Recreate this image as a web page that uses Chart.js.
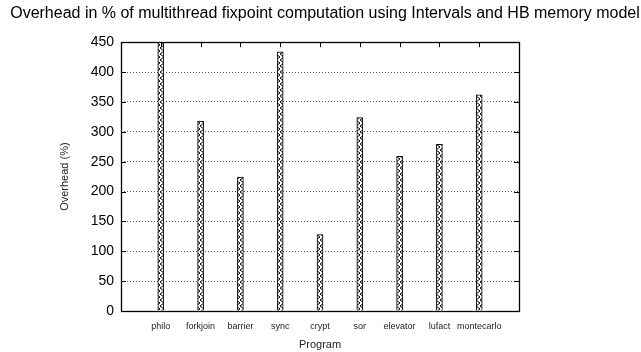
<!DOCTYPE html>
<html>
<head>
<meta charset="utf-8">
<script src="https://cdn.jsdelivr.net/npm/chart.js@4"></script>
<style>
  html,body{margin:0;padding:0;background:#fff;}
  #wrap{width:641px;height:352px;position:relative;}
</style>
</head>
<body>
<div id="wrap"><canvas id="chart" width="641" height="352"></canvas></div>
<script>
/* ---------- DATA ---------- */
const programs = ["philo","forkjoin","barrier","sync","crypt","sor","elevator","lufact","montecarlo"];
const overhead = [450, 318, 224, 434, 128, 324, 259, 279, 362];
const yTicks = [0, 50, 100, 150, 200, 250, 300, 350, 400, 450];

// pad the category axis so bars sit at 1..9 on a 0..10 range
const labels = ["", ...programs, ""];
const values = [null, ...overhead, null];

/* ---------- PATTERN ---------- */
function zigzag(){
  const c = document.createElement("canvas");
  c.width = 4; c.height = 6;
  const x = c.getContext("2d");
  x.fillStyle = "#fff";
  x.fillRect(0,0,4,6);
  x.strokeStyle = "#000";
  x.lineWidth = 1;
  x.beginPath();
  x.moveTo(0,0); x.lineTo(4,3); x.lineTo(0,6);
  x.stroke();
  return x.createPattern(c, "repeat");
}

/* ---------- FRAME (gnuplot style border + mirrored tics) ---------- */
const frame = {
  id:"frame",
  afterDraw(chart){
    const {ctx, chartArea:a, scales:{x, y}} = chart;
    ctx.save();
    ctx.strokeStyle = "#000";
    ctx.lineWidth = 1;
    ctx.beginPath();
    yTicks.forEach(v=>{
      const py = Math.round(y.getPixelForValue(v)) + .5;
      ctx.moveTo(a.left, py); ctx.lineTo(a.left+5, py);
      ctx.moveTo(a.right, py); ctx.lineTo(a.right-5, py);
    });
    programs.forEach((p,i)=>{
      const px = Math.round(x.getPixelForValue(i+1)) + .5;
      ctx.moveTo(px, a.top); ctx.lineTo(px, a.top+5);
    });
    ctx.stroke();
    ctx.lineWidth = 1.3;
    ctx.strokeRect(Math.round(a.left)+.5, Math.round(a.top)+.5,
                   Math.round(a.right-a.left), Math.round(a.bottom-a.top));
    ctx.restore();
  }
};

const font = "'Liberation Sans', Arial, Helvetica, sans-serif";

new Chart(document.getElementById("chart"),{
  type:"bar",
  data:{
    labels,
    datasets:[{
      data:values,
      backgroundColor:zigzag(),
      borderColor:"#000",
      borderWidth:1,
      barThickness:6
    }]
  },
  options:{
    responsive:false,
    animation:false,
    layout:{padding:{left:9, right:0, top:0, bottom:0}},
    plugins:{
      legend:{display:false},
      tooltip:{enabled:false},
      title:{
        display:true,
        text:"Overhead in % of multithread fixpoint computation using Intervals and HB memory model",
        color:"#000",
        font:{family:font, size:16, weight:"normal"},
        padding:{top:4, bottom:19}
      }
    },
    scales:{
      x:{
        type:"category",
        offset:false,
        grid:{display:false, drawTicks:false},
        border:{display:false},
        ticks:{
          color:"#222",
          font:{family:font, size:9},
          padding:10,
          maxRotation:0,
          autoSkip:false
        },
        title:{
          display:true,
          text:"Program",
          color:"#222",
          font:{family:font, size:11},
          padding:{top:2, bottom:0}
        },
        afterFit(s){ s.height = 41; }
      },
      y:{
        min:0,
        max:450,
        afterBuildTicks(s){ s.ticks = yTicks.map(v=>({value:v})); },
        grid:{
          drawTicks:false,
          color:"#555",
          lineWidth:1
        },
        border:{display:false, dash:[1,2]},
        ticks:{
          color:"#000",
          font:{family:font, size:14},
          padding:7
        },
        title:{
          display:true,
          text:"Overhead (%)",
          color:"#222",
          font:{family:font, size:11},
          padding:{top:49, bottom:4}
        },
        afterFit(s){ s.width = 112; }
      },
      y2:{
        position:"right",
        display:true,
        grid:{display:false, drawTicks:false},
        border:{display:false},
        ticks:{display:false},
        afterFit(s){ s.width = 122; }
      }
    }
  },
  plugins:[frame]
});
</script>
</body>
</html>
